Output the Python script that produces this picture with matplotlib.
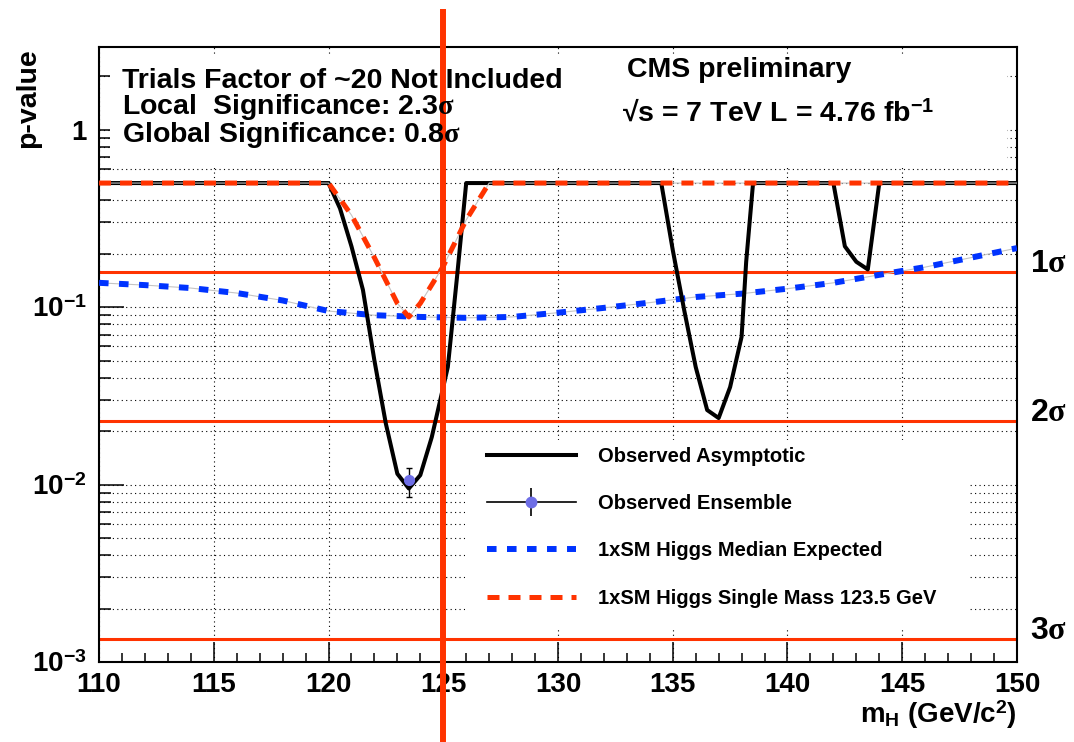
import matplotlib
matplotlib.use("Agg")
import matplotlib.pyplot as plt
import matplotlib.transforms as mtransforms
from matplotlib.lines import Line2D
from matplotlib.patches import Rectangle
from matplotlib.legend_handler import HandlerTuple
from matplotlib.ticker import LogLocator, MultipleLocator, NullFormatter

plt.rcParams['font.family'] = ['Liberation Sans', 'DejaVu Sans']
plt.rcParams['font.weight'] = 'bold'
plt.rcParams['mathtext.fontset'] = 'custom'
plt.rcParams['mathtext.rm'] = 'Liberation Serif'
plt.rcParams['mathtext.it'] = 'Liberation Serif'
plt.rcParams['mathtext.bf'] = 'Liberation Sans:bold'

# ---- data -------------------------------------------------------------
# observed asymptotic local p-value
obs_mass = [110, 120, 120.5, 121, 121.5, 122, 122.5, 123, 123.5, 124, 124.5,
            125.2, 125.6, 126, 134.5, 135, 135.5, 136, 136.5, 137, 137.5,
            138, 138.2, 138.5, 142, 142.5, 143, 143.5, 144, 150]
obs_p = [0.5, 0.5, 0.36, 0.22, 0.125, 0.05, 0.022, 0.0115, 0.0095, 0.0113,
         0.0185, 0.046, 0.148, 0.5, 0.5, 0.21, 0.096, 0.046, 0.0263, 0.0237,
         0.0354, 0.068, 0.18, 0.5, 0.5, 0.22, 0.18, 0.163, 0.5, 0.5]

# observed ensemble (toys) at the best-fit mass
ens_mass = [123.5]
ens_p = [0.0106]
ens_err_lo = [0.0021]
ens_err_hi = [0.0018]

# SM Higgs median expected
exp_mass = [110, 112, 114, 116, 118, 120, 122, 124, 126, 128, 130, 132, 134,
            136, 138, 140, 142, 144, 146, 148, 150]
exp_p = [0.137, 0.133, 0.128, 0.120, 0.109, 0.095, 0.090, 0.088, 0.087,
         0.088, 0.093, 0.099, 0.106, 0.114, 0.119, 0.127, 0.137, 0.152,
         0.168, 0.19, 0.215]

# SM Higgs injected at a single mass of 123.5 GeV
sm_mass = [110, 120, 121, 122, 123, 123.5, 124, 125, 126, 127, 150]
sm_p = [0.5, 0.5, 0.33, 0.19, 0.105, 0.088, 0.105, 0.17, 0.31, 0.5, 0.5]

# one-sided p-values for 1, 2, 3 sigma
sigma_n = [1, 2, 3]
sigma_p = [0.158655, 0.0227501, 0.0013499]

x_ticks = [110, 115, 120, 125, 130, 135, 140, 145, 150]
y_ticks = [1e-3, 1e-2, 1e-1, 1]
y_ticklabels = [r'10$^{\mathbf{-3}}$', r'10$^{\mathbf{-2}}$',
                r'10$^{\mathbf{-1}}$', '1']
m_highlight = 125

RED = '#ff3300'
BLUE = '#0033ff'
GREY = '#c4c4c4'

# ---- figure -----------------------------------------------------------
fig = plt.figure(figsize=(10.74, 7.42), dpi=100)
ax = fig.add_axes([0.0922, 0.1078, 0.8547, 0.8288])
ax.set_yscale('log')
ax.set_xlim(110, 150)
ax.set_ylim(1e-3, 2.92)
ax.set_axisbelow(True)

for s in ax.spines.values():
    s.set_linewidth(1.5)

ax.set_xticks(x_ticks)
ax.xaxis.set_minor_locator(MultipleLocator(1))
ax.set_yticks(y_ticks)
ax.set_yticklabels(y_ticklabels)
ax.yaxis.set_minor_locator(LogLocator(base=10, subs=range(2, 10), numticks=50))
ax.yaxis.set_minor_formatter(NullFormatter())

ax.tick_params(axis='x', which='major', direction='in', length=14.4, width=1.1,
               labelsize=20, pad=7, top=False)
ax.tick_params(axis='x', which='minor', direction='in', length=6.5, width=1.1,
               top=False)
ax.tick_params(axis='y', which='major', direction='in', length=18, width=1.1,
               labelsize=20, pad=9, right=False)
ax.tick_params(axis='y', which='minor', direction='in', length=8.6, width=1.1,
               right=False)
for lab in ax.get_xticklabels() + ax.get_yticklabels():
    lab.set_fontweight('bold')

dot = (0, (1, 3))
ax.xaxis.grid(True, which='major', ls=dot, color='k', lw=0.8)
ax.yaxis.grid(True, which='both', ls=dot, color='k', lw=0.8)

# white panels behind the header text and the legend
ax.add_patch(Rectangle((0.0115, 0.806), 0.978, 0.179, transform=ax.transAxes,
                       facecolor='white', edgecolor='none', zorder=1))
ax.add_patch(Rectangle((0.399, 0.057), 0.55, 0.304, transform=ax.transAxes,
                       facecolor='white', edgecolor='none', zorder=1))

# significance reference lines
trans = mtransforms.blended_transform_factory(ax.transAxes, ax.transData)
for n, p in zip(sigma_n, sigma_p):
    ax.axhline(p, color=RED, lw=2.2, zorder=1.5)
    ax.text(1.014, p, f'{n}' + r'$\sigma$', transform=trans, fontsize=23,
            fontweight='bold', va='baseline', ha='left')

# curves
ax.plot(exp_mass, exp_p, color=GREY, lw=0.8, zorder=2)
exp_line, = ax.plot(exp_mass, exp_p, color=BLUE, lw=4.3, ls=(0, (1.6, 1.75)),
                    zorder=3)
obs_line, = ax.plot(obs_mass, obs_p, color='black', lw=2.9, zorder=4)
ax.plot(sm_mass, sm_p, color=GREY, lw=0.8, zorder=4.5)
sm_line, = ax.plot(sm_mass, sm_p, color=RED, lw=3.6, ls=(0, (2.4, 1.8)),
                   zorder=5)
ax.errorbar(ens_mass, ens_p, yerr=[ens_err_lo, ens_err_hi], fmt='o', ms=7,
            mfc='#6e6ee6', mec='#6e6ee6', ecolor='black', elinewidth=1,
            capsize=2, zorder=6)

ax.axvline(m_highlight, ymin=-0.13, ymax=1.057, color=RED, lw=4.3,
           clip_on=False, zorder=7)

# legend
ens_handle = (Line2D([], [], color='black', lw=1.2),
              Line2D([], [], ls='none', marker='|', ms=20, mew=1.2, color='black'),
              Line2D([], [], ls='none', marker='o', ms=7.5, mfc='#6e6ee6',
                     mec='#6e6ee6'))
leg = ax.legend([obs_line, ens_handle, exp_line, sm_line],
                ['Observed Asymptotic', 'Observed Ensemble',
                 '1xSM Higgs Median Expected',
                 '1xSM Higgs Single Mass 123.5 GeV'],
                handler_map={tuple: HandlerTuple(ndivide=1)},
                loc='upper left', bbox_to_anchor=(0.4227, 0.3495),
                frameon=False, borderpad=0, borderaxespad=0,
                handlelength=4.4, handletextpad=1.1, labelspacing=1.4,
                prop={'family': 'Liberation Sans', 'weight': 'bold',
                      'size': 14.5})
leg.set_zorder(8)

# header text
fig.text(0.1136, 0.881, 'Trials Factor of ~20 Not Included', fontsize=20.5,
         fontweight='bold', va='baseline')
fig.text(0.1136, 0.8465, r'Local  Significance: 2.3$\sigma$', fontsize=20.5,
         fontweight='bold', va='baseline')
fig.text(0.1136, 0.8086, r'Global Significance: 0.8$\sigma$', fontsize=20.5,
         fontweight='bold', va='baseline')
fig.text(0.5838, 0.8962, 'CMS preliminary', fontsize=20.5, fontweight='bold',
         va='baseline')
fig.text(0.579, 0.8369, r'√s = 7 TeV L = 4.76 fb$^{\mathbf{-1}}$',
         fontsize=20.5, fontweight='bold', va='baseline')

# axis titles
fig.text(0.947, 0.0256, r'm$_{\mathbf{H}}$ (GeV/c$^{\mathbf{2}}$)', fontsize=20,
         fontweight='bold', ha='right', va='baseline')
fig.text(0.0265, 0.935, 'p-value', fontsize=20.5, fontweight='bold',
         rotation=90, ha='center', va='top')

fig.savefig('out.png', dpi=100)
